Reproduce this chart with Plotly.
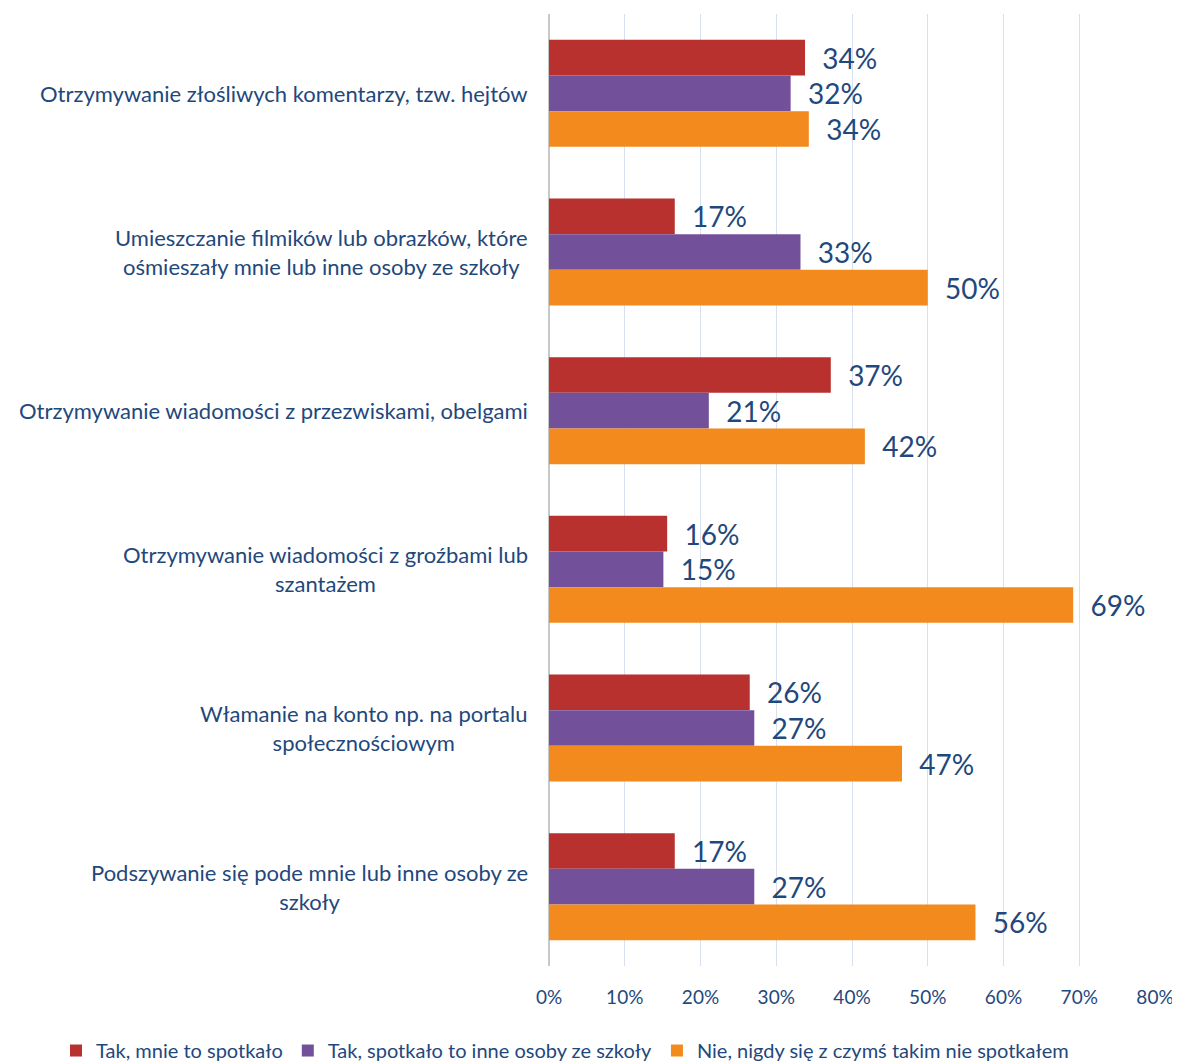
import plotly.graph_objects as go

categories = [
    "Otrzymywanie złośliwych komentarzy, tzw. hejtów",
    "Umieszczanie filmików lub obrazków, które<br>ośmieszały mnie lub inne osoby ze szkoły",
    "Otrzymywanie wiadomości z przezwiskami, obelgami",
    "Otrzymywanie wiadomości z groźbami lub<br>szantażem",
    "Włamanie na konto np. na portalu<br>społecznościowym",
    "Podszywanie się pode mnie lub inne osoby ze<br>szkoły",
]
series_names = [
    "Tak, mnie to spotkało",
    "Tak, spotkało to inne osoby ze szkoły",
    "Nie, nigdy się z czymś takim nie spotkałem",
]
red_vals = [33.8, 16.6, 37.2, 15.6, 26.5, 16.6]
purple_vals = [31.9, 33.2, 21.1, 15.1, 27.1, 27.1]
orange_vals = [34.3, 50.0, 41.7, 69.2, 46.6, 56.3]
colors = ["#B8312F", "#73509A", "#F28A1E"]
x_ticks = [0, 10, 20, 30, 40, 50, 60, 70, 80]
x_tick_labels = ["0%", "10%", "20%", "30%", "40%", "50%", "60%", "70%", "80%"]

text_color = "#1F487C"
fig = go.Figure()
for name, vals, col in zip(series_names, [red_vals, purple_vals, orange_vals], colors):
    fig.add_trace(go.Bar(
        y=categories, x=vals, name=name, orientation="h",
        marker=dict(color=col, line=dict(width=0)),
        text=[f"\u00a0\u00a0{round(v)}%" for v in vals], textposition="outside",
        textfont=dict(size=28, color=text_color, family="Lato"),
        cliponaxis=False,
    ))

for c in categories:
    fig.add_annotation(
        x=0, xref="paper", y=c, yref="y", text=c, showarrow=False,
        xanchor="right", xshift=-19, align="center",
        font=dict(size=22, color=text_color, family="Lato"),
    )

fig.update_layout(
    width=1172, height=1055,
    margin=dict(l=541, r=25, t=6, b=97, autoexpand=False),
    barmode="group", bargap=0.326, bargroupgap=0,
    plot_bgcolor="white", paper_bgcolor="white",
    font=dict(family="Lato", color=text_color),
    legend=dict(orientation="h", x=-0.8135, xanchor="left", y=-0.0683, yanchor="top",
                font=dict(size=20, color=text_color, family="Lato"),
                traceorder="normal", itemwidth=30),
    xaxis=dict(range=[0, 80], tickvals=x_ticks, ticktext=x_tick_labels,
               showgrid=True, gridcolor="#D6E0EE", gridwidth=1,
               zeroline=True, zerolinecolor="#C8C8C8",
               tickfont=dict(size=19, color=text_color), ticklabelstandoff=18,
               automargin=False, fixedrange=True),
    yaxis=dict(autorange="reversed", showticklabels=False, showgrid=False,
               showline=False, automargin=False),
    showlegend=True,
)
fig.write_html("out.html")
